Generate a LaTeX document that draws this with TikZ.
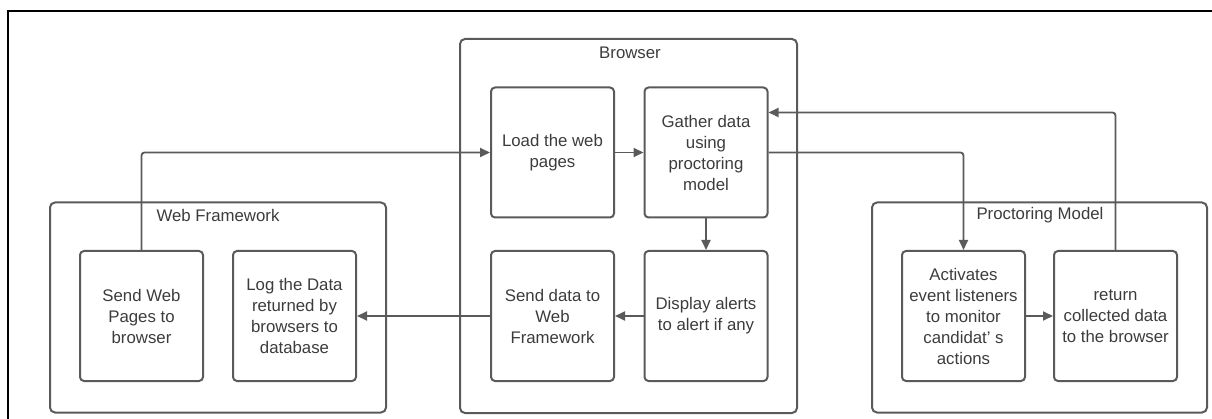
\documentclass[tikz,border=0pt]{standalone}
\usepackage{fontspec}
\setmainfont{Liberation Sans}
\usetikzlibrary{arrows.meta}
\definecolor{ln}{HTML}{5A5A5A}
\definecolor{tx}{HTML}{3C3C3C}
\tikzset{
  box/.style={draw=ln, line width=2pt, rounded corners=4pt, minimum width=123pt, minimum height=130pt, align=center, text=tx, font=\fontsize{16.8}{21}\selectfont, inner sep=2pt},
  group/.style={draw=ln, line width=2pt, rounded corners=5pt},
  gtitle/.style={text=tx, font=\fontsize{16.8}{20}\selectfont, inner sep=0pt},
  conn/.style={draw=ln, line width=1.8pt, rounded corners=3pt, -{Triangle[length=10pt,width=9pt]}}
}
\begin{document}
\begin{tikzpicture}[x=1pt,y=-1pt]
\useasboundingbox (0,0) rectangle (1212,419);
\draw[black, line width=2.5pt] (8,422) -- (8,11) -- (1214,11);
% containers
\node[group, minimum width=336pt, minimum height=210pt] (wf) at (218,307.5) {};
\node[group, minimum width=337pt, minimum height=374pt] (br) at (628.5,226) {};
\node[group, minimum width=335pt, minimum height=210pt] (pm) at (1039.5,307.5) {};
\node[gtitle] (wft) at (218,215) {Web Framework};
\node[gtitle] (brt) at (630,53) {Browser};
\node[gtitle] (pmt) at (1040,215) {Proctoring Model};
% boxes
\node[box] (sendweb) at (141.5,316) {Send Web\\Pages to\\browser};
\node[box] (log) at (294.5,316) {Log the Data\\returned by\\browsers to\\database};
\node[box] (load) at (552.5,152.5) {Load the web\\pages};
\node[box] (gather) at (706,152.5) {Gather data\\using\\proctoring\\model};
\node[box] (senddata) at (552.5,316) {Send data to\\Web\\Framework};
\node[box] (display) at (706,316) {Display alerts\\to alert if any};
\node[box] (act) at (963.5,316) {Activates\\event listeners\\to monitor\\candidat' s\\actions};
\node[box] (ret) at (1115.5,316) {return\\collected data\\to the browser};
% connectors
\draw[conn] (sendweb.north) |- (load.west);
\draw[conn] (load.east) -- (gather.west);
\draw[conn] (gather.east) -| (act.north);
\draw[conn] (act.east) -- (ret.west);
\draw[conn] (ret.north) |- ([yshift=40pt]gather.east);
\draw[conn] (gather.south) -- (display.north);
\draw[conn] (display.west) -- (senddata.east);
\draw[conn] (senddata.west) -- (log.east);
\end{tikzpicture}
\end{document}
